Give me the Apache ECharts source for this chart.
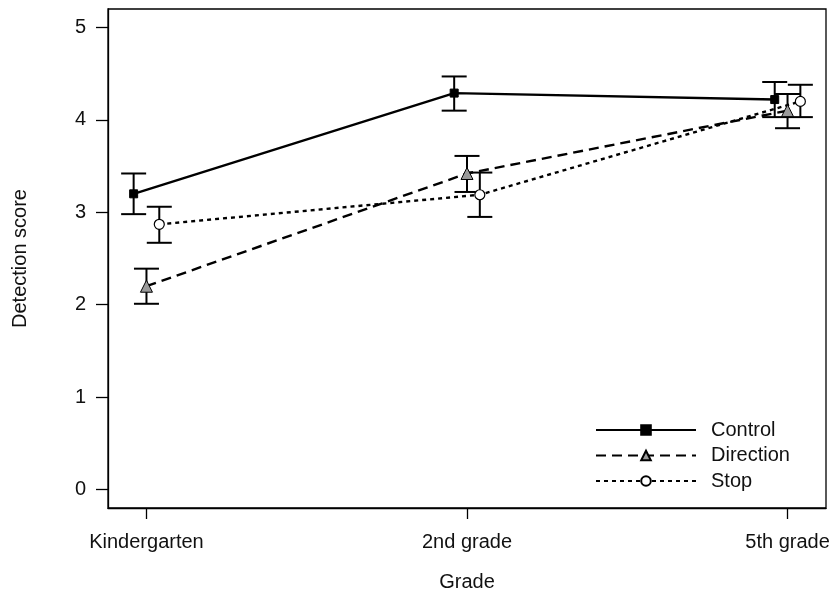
<!DOCTYPE html>
<html>
<head>
<meta charset="utf-8">
<script src="https://cdn.jsdelivr.net/npm/echarts@6/dist/echarts.min.js"></script>
<style>html,body{margin:0;padding:0;background:#fff;}#c{width:835px;height:600px;}</style>
</head>
<body>
<div id="c"></div>
<script>
const categories = ['Kindergarten', '2nd grade', '5th grade'];
const yTicks = [0, 1, 2, 3, 4, 5];

const controlMean = [3.20, 4.29, 4.22];
const controlLow  = [2.98, 4.10, 4.03];
const controlHigh = [3.42, 4.47, 4.41];

const directionMean = [2.20, 3.42, 4.10];
const directionLow  = [2.01, 3.22, 3.91];
const directionHigh = [2.39, 3.61, 4.28];

const stopMean = [2.87, 3.19, 4.20];
const stopLow  = [2.67, 2.95, 4.03];
const stopHigh = [3.06, 3.43, 4.38];

const FONT = 'Liberation Sans, Arial, sans-serif';
const FS = 20;
const TXT = '#111';
const chart = echarts.init(document.getElementById('c'));

function pts(mean, off) { return mean.map((v, i) => [i + off, v]); }
function bars(mean, lo, hi, off) { return mean.map((v, i) => [i + off, lo[i], hi[i]]); }

function errSeries(data) {
  return {
    type: 'custom',
    z: 3,
    silent: true,
    data: data,
    renderItem: function (params, api) {
      const x = api.value(0);
      const a = api.coord([x, api.value(1)]);
      const b = api.coord([x, api.value(2)]);
      const w = 12.5;
      const st = { stroke: '#000', lineWidth: 2 };
      return {
        type: 'group',
        children: [
          { type: 'line', shape: { x1: a[0], y1: a[1], x2: b[0], y2: b[1] }, style: st },
          { type: 'line', shape: { x1: a[0] - w, y1: a[1], x2: a[0] + w, y2: a[1] }, style: st },
          { type: 'line', shape: { x1: b[0] - w, y1: b[1], x2: b[0] + w, y2: b[1] }, style: st }
        ]
      };
    }
  };
}

const off = { control: -0.04, direction: 0, stop: 0.04 };

chart.setOption({
  animation: false,
  backgroundColor: '#fff',
  grid: { left: 108, right: 9, top: 9, bottom: 92, show: true, borderColor: '#000', borderWidth: 1.3, backgroundColor: 'transparent' },
  xAxis: {
    type: 'value', min: -0.12, max: 2.12,
    name: 'Grade', nameLocation: 'middle', nameGap: 64,
    nameTextStyle: { fontFamily: FONT, fontSize: FS, color: TXT },
    axisLine: { show: true, onZero: false, lineStyle: { color: '#000', width: 1.3 } },
    axisTick: { show: true, length: 11, lineStyle: { color: '#000', width: 1.3 }, customValues: [0, 1, 2] },
    axisLabel: { customValues: [0, 1, 2], margin: 24, fontFamily: FONT, fontSize: FS, color: TXT,
      formatter: v => categories[Math.round(v)] },
    splitLine: { show: false }
  },
  yAxis: {
    type: 'value', min: -0.2, max: 5.2,
    name: 'Detection score', nameLocation: 'middle', nameGap: 78, nameRotate: 90,
    nameTextStyle: { fontFamily: FONT, fontSize: FS, color: TXT },
    axisLine: { show: true, onZero: false, lineStyle: { color: '#000', width: 1.3 } },
    axisTick: { show: true, length: 12, lineStyle: { color: '#000', width: 1.3 }, customValues: yTicks },
    axisLabel: { customValues: yTicks, margin: 22, fontFamily: FONT, fontSize: FS, color: TXT },
    splitLine: { show: false }
  },
  legend: {
    orient: 'vertical', left: 590, top: 415, itemWidth: 100, itemHeight: 12, itemGap: 5.5,
    textStyle: { fontFamily: FONT, fontSize: FS, color: TXT, padding: [0, 0, 0, 10] },
    data: ['Control', 'Direction', 'Stop']
  },
  series: [
    errSeries(bars(controlMean, controlLow, controlHigh, off.control)),
    errSeries(bars(directionMean, directionLow, directionHigh, off.direction)),
    errSeries(bars(stopMean, stopLow, stopHigh, off.stop)),
    {
      name: 'Control', type: 'line', z: 4, data: pts(controlMean, off.control),
      symbol: 'rect', symbolSize: 8,
      lineStyle: { color: '#000', width: 2.4, type: 'solid' },
      itemStyle: { color: '#000', borderColor: '#000', borderWidth: 1 }
    },
    {
      name: 'Direction', type: 'line', z: 4, data: pts(directionMean, off.direction),
      symbol: 'triangle', symbolSize: 12,
      lineStyle: { color: '#000', width: 2.4, type: [10, 6] },
      itemStyle: { color: '#9a9a9a', borderColor: '#000', borderWidth: 1 }
    },
    {
      name: 'Stop', type: 'line', z: 4, data: pts(stopMean, off.stop),
      symbol: 'circle', symbolSize: 10,
      lineStyle: { color: '#000', width: 2.4, type: [4, 4] },
      itemStyle: { color: '#fff', borderColor: '#000', borderWidth: 1.2 }
    }
  ]
});
</script>
</body>
</html>
